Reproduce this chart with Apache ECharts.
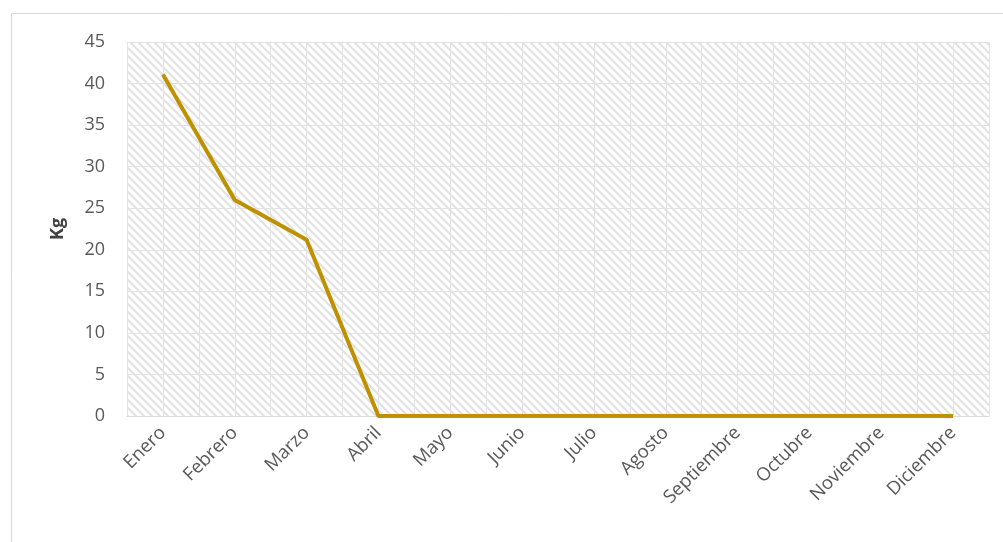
<!DOCTYPE html>
<html>
<head>
<meta charset="utf-8">
<script src="https://cdn.jsdelivr.net/npm/echarts@6/dist/echarts.min.js"></script>
<style>
  html, body { margin: 0; padding: 0; background: #fff; }
  #chart { width: 1003px; height: 542px; }
</style>
</head>
<body>
<div id="chart"></div>
<script>
const months = ['Enero', 'Febrero', 'Marzo', 'Abril', 'Mayo', 'Junio', 'Julio', 'Agosto', 'Septiembre', 'Octubre', 'Noviembre', 'Diciembre'];
const kgValues = [41.1, 26, 21.2, 0, 0, 0, 0, 0, 0, 0, 0, 0];
const yTicks = [0, 5, 10, 15, 20, 25, 30, 35, 40, 45];

const LINE_COLOR = '#BF9000';
const TEXT_COLOR = '#595959';
const FONT = '"Open Sans", "Noto Sans", sans-serif';

// hatch tile for the plot area (Excel "wide downward diagonal")
function makeHatch() {
  const c = document.createElement('canvas');
  c.width = 8; c.height = 8;
  const ctx = c.getContext('2d');
  ctx.fillStyle = '#ffffff';
  ctx.fillRect(0, 0, 8, 8);
  ctx.strokeStyle = '#e2e2e2';
  ctx.lineWidth = 2;
  ctx.beginPath();
  ctx.moveTo(-2, -2); ctx.lineTo(10, 10);
  ctx.moveTo(-10, -2); ctx.lineTo(2, 10);
  ctx.moveTo(6, -2); ctx.lineTo(18, 10);
  ctx.stroke();
  return c;
}

const chart = echarts.init(document.getElementById('chart'));
chart.setOption({
  backgroundColor: '#fff',
  animation: false,
  graphic: [{
    type: 'rect', left: 9, top: 11,
    shape: { width: 1010, height: 560 },
    style: { fill: 'none', stroke: '#d9d9d9', lineWidth: 1 },
    silent: true, z: -1
  }],
  grid: {
    left: 127, right: 14, top: 42, bottom: 126,
    show: true, borderWidth: 0,
    backgroundColor: { image: makeHatch(), repeat: 'repeat' }
  },
  xAxis: [{
    type: 'category', data: months, boundaryGap: true,
    axisLine: { lineStyle: { color: '#d9d9d9', width: 1 } },
    axisTick: { show: false },
    axisLabel: {
      interval: 0, rotate: 45, color: TEXT_COLOR, fontSize: 18.5,
      fontFamily: FONT, margin: 14
    },
    splitLine: { show: false }
  }, {
    // half-category gridlines
    type: 'value', min: 0, max: 24, interval: 1, position: 'top',
    axisLine: { show: false }, axisTick: { show: false }, axisLabel: { show: false },
    splitLine: { show: true, lineStyle: { color: '#e3e3e3', width: 1 } }
  }],
  yAxis: {
    type: 'value', min: yTicks[0], max: yTicks[yTicks.length - 1], interval: 5,
    name: 'Kg', nameLocation: 'middle', nameGap: 60, nameRotate: 90,
    nameTextStyle: { color: '#404040', fontSize: 18, fontWeight: 'bold', fontFamily: FONT },
    axisLine: { show: false }, axisTick: { show: false },
    axisLabel: { color: TEXT_COLOR, fontSize: 18, fontFamily: FONT, margin: 22 },
    splitLine: { lineStyle: { color: '#e3e3e3', width: 1 } }
  },
  series: [{
    type: 'line', data: kgValues, xAxisIndex: 0,
    symbol: 'none',
    lineStyle: { color: LINE_COLOR, width: 4 },
    z: 5
  }]
});
</script>
</body>
</html>
